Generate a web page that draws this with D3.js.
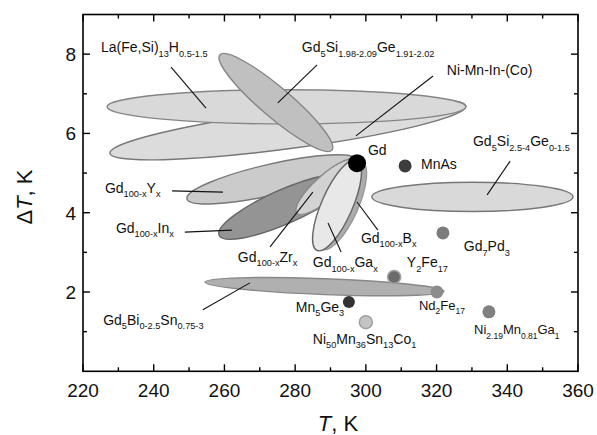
<!DOCTYPE html>
<html><head><meta charset="utf-8">
<script src="https://cdn.jsdelivr.net/npm/d3@7"></script>
<style>body{margin:0;background:#fff}svg{display:block}text{font-family:"Liberation Sans",Arial,sans-serif;fill:#111}</style>
</head><body><svg id="c" width="597" height="435"></svg>
<script>
// ---------- data ----------
const xTicks = [220, 240, 260, 280, 300, 320, 340, 360];
const xMinor = [230, 250, 270, 290, 310, 330, 350];
const yTicks = [2, 4, 6, 8];
const yMinor = [1, 3, 5, 7];

// regions: major-axis end points (T, dT) and half-width in dT units
const regionNames = ["Ni-Mn-In-(Co)", "La(Fe,Si)13H", "Gd5SiGe-a", "Gd5SiGe-b", "Gd5BiSn", "GdY", "GdIn", "GdZr", "GdB", "GdGa"];
const regionT1  = [227.6, 226.8, 258.7, 301.7, 254.5, 249.4, 258.5, 280.5, 287.6, 286.2];
const regionDT1 = [5.50, 6.67, 7.98, 4.40, 2.25, 4.35, 3.43, 3.99, 3.08, 3.05];
const regionT2  = [328.3, 328.3, 290.4, 358.6, 322.1, 297.5, 295.5, 297.5, 298.8, 297.5];
const regionDT2 = [6.69, 6.67, 5.58, 4.40, 2.02, 5.33, 4.88, 5.33, 5.30, 5.33];
const regionHW  = [0.48, 0.43, 0.38, 0.37, 0.20, 0.39, 0.43, 0.30, 0.41, 0.39];

// single-point materials
const pointNames = ["MnAs", "Gd7Pd3", "Y2Fe17", "Nd2Fe17", "Mn5Ge3", "Ni50Mn36Sn13Co1", "Ni2.19Mn0.81Ga1", "Gd"];
const pointT  = [311.1, 321.8, 308.0, 320.1, 295.2, 300.0, 334.8, 297.5];
const pointDT = [5.18, 3.49, 2.38, 2.00, 1.75, 1.24, 1.50, 5.25];

// labels (anchor in data coordinates)
const labelText = ["La(Fe,Si)_{13}H_{0.5-1.5}", "Gd_{5}Si_{1.98-2.09}Ge_{1.91-2.02}", "Ni-Mn-In-(Co)", "Gd", "MnAs",
  "Gd_{5}Si_{2.5-4}Ge_{0-1.5}", "Gd_{100-x}Y_{x}", "Gd_{100-x}In_{x}", "Gd_{100-x}Zr_{x}", "Gd_{100-x}Ga_{x}",
  "Gd_{100-x}B_{x}", "Gd_{7}Pd_{3}", "Y_{2}Fe_{17}", "Nd_{2}Fe_{17}", "Mn_{5}Ge_{3}", "Ni_{50}Mn_{36}Sn_{13}Co_{1}",
  "Ni_{2.19}Mn_{0.81}Ga_{1}", "Gd_{5}Bi_{0-2.5}Sn_{0.75-3}"];
const labelT  = [225.1, 281.9, 322.9, 300.6, 315.6, 330.3, 226.2, 229.3, 263.8, 285.0, 298.6, 327.7, 311.6, 315.0, 280.2, 285.0, 330.6, 225.7];
const labelDT = [8.05, 8.05, 7.47, 5.46, 5.10, 5.68, 4.50, 3.49, 2.76, 2.63, 3.24, 3.03, 2.63, 1.55, 1.50, 0.69, 0.94, 1.17];

// leader lines
const leaderT1  = [244.9, 286.2, 319.0, 340.8, 245.2, 248.8, 272.9, 289.3, 297.5, 253.9];
const leaderDT1 = [7.67, 7.73, 7.45, 5.30, 4.55, 3.51, 3.14, 3.74, 4.27, 1.55];
const leaderT2  = [254.8, 275.1, 297.2, 334.3, 259.6, 262.1, 285.0, 293.0, 303.4, 267.2];
const leaderDT2 = [6.64, 6.77, 5.94, 4.45, 4.52, 3.56, 4.52, 3.01, 3.56, 2.23];

// ---------- styles ----------
const regionStyle = {
  "Ni-Mn-In-(Co)": {fill: "#dcdcdc", stroke: "#777777"},
  "La(Fe,Si)13H":  {fill: "#d9d9d9", stroke: "#858585"},
  "Gd5SiGe-a":     {fill: "#c0c0c0", stroke: "#858585"},
  "Gd5SiGe-b":     {fill: "#d9d9d9", stroke: "#777777"},
  "Gd5BiSn":       {fill: "#b0b0b0", stroke: "#888888"},
  "GdY":           {fill: "#cbcbcb", stroke: "#777777"},
  "GdIn":          {fill: "#949494", stroke: "#666666"},
  "GdZr":          {fill: "#d2d2d2", stroke: "#8a8a8a"},
  "GdB":           {fill: "#acacac", stroke: "#999999"},
  "GdGa":          {fill: "#e8e8e8", stroke: "#666666"}
};
const pointStyle = {
  "MnAs": {fill: "#3d3d3d", r: 6.5}, "Gd7Pd3": {fill: "#7c7c7c", r: 6.5},
  "Y2Fe17": {fill: "#6b6b6b", r: 6.5, stroke: "#a0a0a0"}, "Nd2Fe17": {fill: "#8c8c8c", r: 6.5},
  "Mn5Ge3": {fill: "#333333", r: 6}, "Ni50Mn36Sn13Co1": {fill: "#c4c4c4", r: 6.5, stroke: "#a0a0a0"},
  "Ni2.19Mn0.81Ga1": {fill: "#808080", r: 6.5}, "Gd": {fill: "#000000", r: 9}
};
const smallLabels = new Set(["Nd_{2}Fe_{17}", "Ni_{2.19}Mn_{0.81}Ga_{1}"]);

// ---------- chart ----------
const svg = d3.select("#c");
const L = 83, R = 578, T = 14.5, B = 371.3;
const x = d3.scaleLinear().domain([220, 360]).range([L, R]);
const y = d3.scaleLinear().domain([0, 9]).range([B, T]);

const gR = svg.append("g");
regionNames.forEach((n, i) => {
  const x1 = x(regionT1[i]), y1 = y(regionDT1[i]), x2 = x(regionT2[i]), y2 = y(regionDT2[i]);
  const cx = (x1 + x2) / 2, cy = (y1 + y2) / 2;
  const a = Math.hypot(x2 - x1, y2 - y1) / 2;
  const b = y(0) - y(regionHW[i]);
  const ang = Math.atan2(y2 - y1, x2 - x1) * 180 / Math.PI;
  gR.append("ellipse").attr("cx", 0).attr("cy", 0).attr("rx", a).attr("ry", b)
    .attr("transform", `translate(${cx},${cy}) rotate(${ang})`)
    .attr("fill", regionStyle[n].fill).attr("stroke", regionStyle[n].stroke).attr("stroke-width", 1.4);
});

svg.append("g").selectAll("line").data(leaderT1).join("line")
  .attr("x1", (d, i) => x(leaderT1[i])).attr("y1", (d, i) => y(leaderDT1[i]))
  .attr("x2", (d, i) => x(leaderT2[i])).attr("y2", (d, i) => y(leaderDT2[i]))
  .attr("stroke", "#111").attr("stroke-width", 1.1);

svg.append("g").selectAll("circle").data(pointNames).join("circle")
  .attr("cx", (d, i) => x(pointT[i])).attr("cy", (d, i) => y(pointDT[i]))
  .attr("r", d => pointStyle[d].r).attr("fill", d => pointStyle[d].fill)
  .attr("stroke", d => pointStyle[d].stroke || "none").attr("stroke-width", 1.5);

// labels with subscripts
const gL = svg.append("g");
labelText.forEach((s, i) => {
  const small = smallLabels.has(s);
  const fs = small ? 13 : 14, ss = small ? 8.5 : 9.2, sh = 4.5;
  const t = gL.append("text").attr("x", x(labelT[i])).attr("y", y(labelDT[i])).attr("font-size", fs);
  const parts = s.split(/(_\{[^}]*\})/).filter(p => p.length);
  let down = false;
  parts.forEach(p => {
    if (p.startsWith("_{")) {
      t.append("tspan").attr("font-size", ss).attr("dy", down ? 0 : sh).text(p.slice(2, -1));
      down = true;
    } else {
      t.append("tspan").attr("dy", down ? -sh : 0).text(p);
      down = false;
    }
  });
});

// frame and axes
svg.append("rect").attr("x", L).attr("y", T).attr("width", R - L).attr("height", B - T)
  .attr("fill", "none").attr("stroke", "#000").attr("stroke-width", 1.6);
const ax = svg.append("g").attr("stroke", "#000").attr("stroke-width", 1.4);
xTicks.forEach(v => { ax.append("line").attr("x1", x(v)).attr("x2", x(v)).attr("y1", B).attr("y2", B - 7);
  ax.append("line").attr("x1", x(v)).attr("x2", x(v)).attr("y1", T).attr("y2", T + 7); });
xMinor.forEach(v => { ax.append("line").attr("x1", x(v)).attr("x2", x(v)).attr("y1", B).attr("y2", B - 4);
  ax.append("line").attr("x1", x(v)).attr("x2", x(v)).attr("y1", T).attr("y2", T + 4); });
yTicks.forEach(v => { ax.append("line").attr("y1", y(v)).attr("y2", y(v)).attr("x1", L).attr("x2", L + 7);
  ax.append("line").attr("y1", y(v)).attr("y2", y(v)).attr("x1", R).attr("x2", R - 7); });
yMinor.forEach(v => { ax.append("line").attr("y1", y(v)).attr("y2", y(v)).attr("x1", L).attr("x2", L + 4);
  ax.append("line").attr("y1", y(v)).attr("y2", y(v)).attr("x1", R).attr("x2", R - 4); });

svg.append("g").selectAll("text").data(xTicks).join("text")
  .attr("x", d => x(d)).attr("y", 397).attr("text-anchor", "middle").attr("font-size", 19).text(d => d);
svg.append("g").selectAll("text").data(yTicks).join("text")
  .attr("x", 76).attr("y", d => y(d)).attr("dy", "0.36em").attr("text-anchor", "end").attr("font-size", 19).text(d => d);

const xt = svg.append("text").attr("x", 338).attr("y", 431).attr("text-anchor", "middle").attr("font-size", 22);
xt.append("tspan").attr("font-style", "italic").text("T");
xt.append("tspan").text(", K");
const yt = svg.append("text").attr("transform", "translate(32,197) rotate(-90)").attr("text-anchor", "middle").attr("font-size", 22);
yt.append("tspan").text("Δ");
yt.append("tspan").attr("font-style", "italic").text("T");
yt.append("tspan").text(", K");
</script></body></html>
